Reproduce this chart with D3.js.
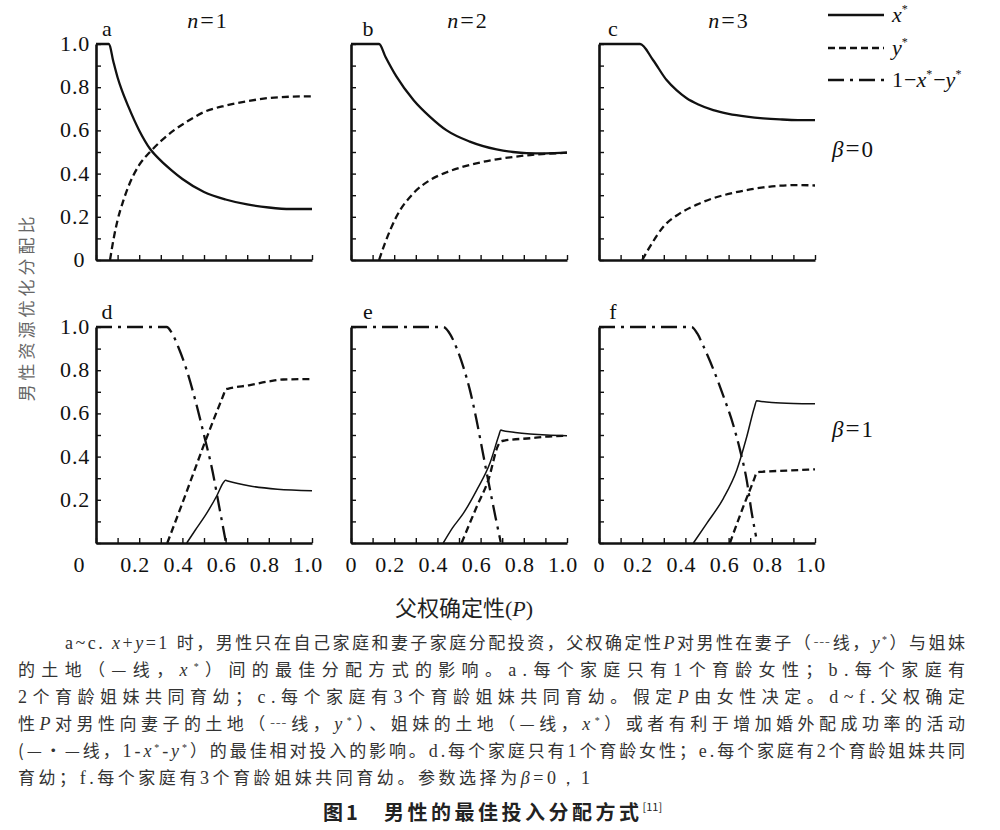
<!DOCTYPE html>
<html>
<head>
<meta charset="utf-8">
<script src="https://cdn.jsdelivr.net/npm/d3@7"></script>
<style>
  body { margin: 0; background: #fff; }
  svg { display: block; }
</style>
</head>
<body>
<svg id="chart" width="1000" height="830"></svg>
<script>
// ---- data: [P, value] ----
// beta = 0, x* (solid) and y* (dashed)
var aX = [[0,1],[0.06,1],[0.08,0.92],[0.1,0.845],[0.12,0.785],[0.15,0.71],[0.2,0.60],[0.25,0.515],[0.3,0.46],[0.35,0.415],[0.4,0.375],[0.5,0.315],[0.6,0.28],[0.7,0.257],[0.8,0.243],[0.9,0.236],[1.0,0.236]]
var aY = [[0.065,0],[0.08,0.09],[0.1,0.185],[0.125,0.27],[0.15,0.34],[0.2,0.44],[0.25,0.5],[0.3,0.55],[0.36,0.60],[0.42,0.64],[0.5,0.685],[0.6,0.715],[0.7,0.735],[0.8,0.75],[0.9,0.756],[1.0,0.758]]
var bX = [[0,1],[0.13,1],[0.16,0.94],[0.21,0.85],[0.29,0.74],[0.366,0.663],[0.443,0.60],[0.55,0.548],[0.674,0.512],[0.75,0.50],[0.813,0.495],[0.9,0.494],[1.0,0.497]]
var bY = [[0.13,0],[0.157,0.077],[0.21,0.2],[0.29,0.31],[0.366,0.37],[0.44,0.405],[0.52,0.432],[0.6,0.452],[0.674,0.466],[0.75,0.477],[0.83,0.486],[0.9,0.491],[1.0,0.497]]
var cX = [[0,1],[0.19,1],[0.25,0.926],[0.313,0.833],[0.36,0.785],[0.406,0.749],[0.46,0.72],[0.529,0.694],[0.6,0.677],[0.684,0.664],[0.76,0.656],[0.838,0.651],[0.92,0.648],[1.0,0.648]]
var cY = [[0.2,0],[0.236,0.062],[0.298,0.154],[0.375,0.216],[0.45,0.255],[0.529,0.286],[0.6,0.306],[0.684,0.324],[0.76,0.336],[0.838,0.344],[0.92,0.347],[1.0,0.345]]
// beta = 1, plus 1-x*-y* (dash-dot)
var dX = [[0.42,0],[0.46,0.06],[0.512,0.137],[0.56,0.22],[0.59,0.28],[0.6,0.29],[0.61,0.287],[0.713,0.264],[0.84,0.249],[1.0,0.242]]
var dY = [[0.33,0],[0.4,0.185],[0.45,0.32],[0.5,0.455],[0.55,0.585],[0.59,0.685],[0.6,0.711],[0.61,0.714],[0.713,0.731],[0.8,0.748],[0.867,0.757],[1.0,0.759]]
var dZ = [[0,1],[0.327,1],[0.35,0.975],[0.38,0.91],[0.42,0.80],[0.46,0.66],[0.5,0.50],[0.54,0.33],[0.57,0.17],[0.6,0.01]]
var eX = [[0.427,0],[0.47,0.07],[0.52,0.137],[0.582,0.245],[0.643,0.369],[0.685,0.50],[0.693,0.523],[0.7,0.521],[0.76,0.512],[0.829,0.505],[0.906,0.5],[1.0,0.497]]
var eY = [[0.512,0],[0.582,0.168],[0.636,0.292],[0.682,0.454],[0.693,0.47],[0.71,0.474],[0.829,0.485],[0.9,0.492],[1.0,0.497]]
var eZ = [[0,1],[0.427,1],[0.46,0.965],[0.49,0.9],[0.52,0.815],[0.55,0.71],[0.58,0.575],[0.61,0.42],[0.64,0.265],[0.67,0.115],[0.693,0.005]]
var fX = [[0.437,0],[0.499,0.091],[0.576,0.207],[0.638,0.338],[0.684,0.492],[0.72,0.63],[0.73,0.659],[0.74,0.657],[0.8,0.65],[0.9,0.646],[1.0,0.645]]
var fY = [[0.606,0],[0.668,0.168],[0.72,0.30],[0.73,0.326],[0.745,0.329],[0.869,0.335],[1.0,0.341]]
var fZ = [[0,1],[0.429,1],[0.455,0.97],[0.483,0.912],[0.529,0.805],[0.576,0.68],[0.622,0.545],[0.653,0.43],[0.684,0.29],[0.707,0.14],[0.727,0.03]]

var yTicks = [0.2, 0.4, 0.6, 0.8, 1.0]
var xTicks = [0.2, 0.4, 0.6, 0.8, 1.0]
var nLabels = ["1", "2", "3"]
var betaLabels = ["0", "1"]

var SERIF = "'Liberation Serif', 'Times New Roman', 'DejaVu Serif', serif"
var CJK = "'Noto Sans CJK SC', sans-serif"

var svg = d3.select("#chart")
var W = 216, H = 216
var colX = [96, 351, 599]
var rowTop = [44, 327]

var styles = {
    x: {w: 2.3, dash: null},
    y: {w: 2.3, dash: "7,4"},
    z: {w: 2.3, dash: "16,6,3,6"}
}

var panels = [
    {letter: "a", col: 0, row: 0, lines: [["x", aX], ["y", aY]]},
    {letter: "b", col: 1, row: 0, lines: [["x", bX], ["y", bY]]},
    {letter: "c", col: 2, row: 0, lines: [["x", cX], ["y", cY]]},
    {letter: "d", col: 0, row: 1, lines: [["z", dZ], ["y", dY], ["x", dX]]},
    {letter: "e", col: 1, row: 1, lines: [["z", eZ], ["y", eY], ["x", eX]]},
    {letter: "f", col: 2, row: 1, lines: [["z", fZ], ["y", fY], ["x", fX]]}
]
var letterDx = [11, 17, 14]

function serifText(sel){
    return sel.append("text").attr("font-family", SERIF).attr("fill", "#111")
}

panels.forEach(function(p){
    var x0 = colX[p.col], top = rowTop[p.row]
    var x = d3.scaleLinear().domain([0, 1]).range([x0, x0 + W])
    var y = d3.scaleLinear().domain([0, 1]).range([top + H, top])
    var g = svg.append("g")

    // axes, ticks pointing inward
    var ya = d3.axisLeft(y).tickValues(d3.range(0, 1.01, 0.1)).tickSizeInner(-5).tickSizeOuter(0).tickFormat("")
    var xa = d3.axisBottom(x).tickValues(d3.range(0, 1.01, 0.1)).tickSizeInner(-5).tickSizeOuter(0).tickFormat("")
    var gy = g.append("g").attr("transform", "translate(" + x0 + ",0)").call(ya)
    var gx = g.append("g").attr("transform", "translate(0," + (top + H) + ")").call(xa)
    ;[gy, gx].forEach(function(a){
        a.select(".domain").attr("stroke", "#111").attr("stroke-width", 2.6)
        a.selectAll(".tick line").attr("stroke", "#111").attr("stroke-width", 1.4)
    })

    // curves
    var line = d3.line().x(function(d){ return x(d[0]) }).y(function(d){ return y(d[1]) }).curve(d3.curveMonotoneX)
    p.lines.forEach(function(l){
        var s = styles[l[0]]
        var w = s.w
        if (p.row == 1 && l[0] == "x") w = 1.5
        g.append("path").attr("d", line(l[1])).attr("fill", "none")
            .attr("stroke", "#111").attr("stroke-width", w)
            .attr("stroke-dasharray", s.dash)
    })

    // panel letter
    serifText(g).attr("x", x0 + letterDx[p.col]).attr("y", top - 8)
        .attr("text-anchor", "middle").attr("font-size", 22).text(p.letter)

    // y tick labels on the first column
    if (p.col == 0) {
        g.selectAll(".yl").data(yTicks).enter().append("text")
            .attr("font-family", SERIF).attr("fill", "#111")
            .attr("x", x0 - 6).attr("y", function(d){ return y(d) + 7 })
            .attr("text-anchor", "end").attr("font-size", 22).attr("letter-spacing", 0.8)
            .text(function(d){ return d3.format(".1f")(d) })
        if (p.row == 0) {
            serifText(g).attr("x", x0 - 17).attr("y", y(0) + 7)
                .attr("text-anchor", "middle").attr("font-size", 22).text("0")
        }
    }
    // x tick labels on the bottom row
    if (p.row == 1) {
        g.selectAll(".xl").data(xTicks).enter().append("text")
            .attr("font-family", SERIF).attr("fill", "#111")
            .attr("x", function(d){ return x(d) - 4 }).attr("y", top + H + 29)
            .attr("text-anchor", "middle").attr("font-size", 22).attr("letter-spacing", 0.8)
            .text(function(d){ return d3.format(".1f")(d) })
        serifText(g).attr("x", p.col == 0 ? x0 - 17 : x0).attr("y", top + H + 29)
            .attr("text-anchor", "middle").attr("font-size", 22).text("0")
    }
})

// n = 1,2,3 titles
var titleX = [207, 467, 728]
nLabels.forEach(function(n, i){
    var t = serifText(svg).attr("x", titleX[i]).attr("y", 28)
        .attr("text-anchor", "middle").attr("font-size", 22)
    t.append("tspan").attr("font-style", "italic").text("n")
    t.append("tspan").attr("dx", 2).attr("font-size", 24).text("=")
    t.append("tspan").attr("dx", 2).text(n)
})

// beta labels
var betaY = [157, 437]
betaLabels.forEach(function(b, i){
    var t = serifText(svg).attr("x", 832).attr("y", betaY[i]).attr("font-size", 23)
    t.append("tspan").attr("font-style", "italic").text("β")
    t.append("tspan").attr("dx", 2).attr("font-size", 25).text("=")
    t.append("tspan").attr("dx", 2).text(b)
})

// legend
var legendRows = [["x", 15], ["y", 48], ["z", 80]]
legendRows.forEach(function(r){
    var s = styles[r[0]]
    svg.append("line").attr("x1", 828).attr("x2", 884).attr("y1", r[1]).attr("y2", r[1])
        .attr("stroke", "#111").attr("stroke-width", 2.3).attr("stroke-dasharray", s.dash)
    var t = serifText(svg).attr("x", 892).attr("y", r[1] + 7).attr("font-size", 22)
    function star(v){
        t.append("tspan").attr("font-style", "italic").text(v)
        t.append("tspan").attr("font-size", 12).attr("baseline-shift", "9").text("*")
    }
    if (r[0] == "x") star("x")
    else if (r[0] == "y") star("y")
    else {
        t.append("tspan").text("1")
        t.append("tspan").attr("dx", 1).text("−")
        star("x")
        t.append("tspan").attr("dx", 1).text("−")
        star("y")
    }
})

// axis titles
svg.append("text").attr("transform", "translate(33,307) rotate(-90)")
    .attr("text-anchor", "middle").attr("font-family", CJK).attr("font-size", 17)
    .attr("fill", "#666").attr("letter-spacing", 4).text("男性资源优化分配比")
var xt = svg.append("text").attr("x", 395).attr("y", 616).attr("font-size", 22).attr("fill", "#222")
xt.append("tspan").attr("font-family", CJK).text("父权确定性")
xt.append("tspan").attr("font-family", SERIF).text("(")
xt.append("tspan").attr("font-family", SERIF).attr("font-style", "italic").text("P")
xt.append("tspan").attr("font-family", SERIF).text(")")

// caption
var captionLines = [
    [["a~c. ", "l"], ["x", "i"], ["+", "l"], ["y", "i"], ["=1 ", "l"], ["时，男性只在自己家庭和妻子家庭分配投资，父权确定性", "c"], ["P", "i"], ["对男性在妻子（┄线，", "c"], ["y", "i"], ["*", "s"], ["）与姐妹", "c"]],
    [["的土地（—线，", "c"], ["x", "i"], ["*", "s"], ["）间的最佳分配方式的影响。", "c"], ["a.", "l"], ["每个家庭只有", "c"], ["1", "l"], ["个育龄女性；", "c"], ["b.", "l"], ["每个家庭有", "c"]],
    [["2", "l"], ["个育龄姐妹共同育幼；", "c"], ["c.", "l"], ["每个家庭有", "c"], ["3", "l"], ["个育龄姐妹共同育幼。假定", "c"], ["P", "i"], ["由女性决定。", "c"], ["d~f.", "l"], ["父权确定", "c"]],
    [["性", "c"], ["P", "i"], ["对男性向妻子的土地（┄线，", "c"], ["y", "i"], ["*", "s"], ["）、姐妹的土地（—线，", "c"], ["x", "i"], ["*", "s"], ["）或者有利于增加婚外配成功率的活动", "c"]],
    [["(—·—线，", "c"], ["1-", "l"], ["x", "i"], ["*", "s"], ["-", "l"], ["y", "i"], ["*", "s"], ["）的最佳相对投入的影响。", "c"], ["d.", "l"], ["每个家庭只有", "c"], ["1", "l"], ["个育龄女性；", "c"], ["e.", "l"], ["每个家庭有", "c"], ["2", "l"], ["个育龄姐妹共同", "c"]],
    [["育幼；", "c"], ["f.", "l"], ["每个家庭有", "c"], ["3", "l"], ["个育龄姐妹共同育幼。参数选择为", "c"], ["β", "i"], ["=0，1", "l"]]
]
var capX = [65, 18, 18, 18, 18, 18]
var capLen = [900, 947, 947, 947, 947, 572]
captionLines.forEach(function(parts, i){
    var t = svg.append("text").attr("x", capX[i]).attr("y", 649 + i * 27)
        .attr("font-size", 17).attr("fill", "#333")
        .attr("textLength", capLen[i]).attr("lengthAdjust", "spacing")
    parts.forEach(function(p){
        var s = t.append("tspan").text(p[0])
        s.attr("font-family", p[1] == "c" ? CJK : SERIF)
        if (p[1] == "l" || p[1] == "i") s.attr("font-size", 18)
        if (p[1] == "i") s.attr("font-style", "italic")
        if (p[1] == "s") s.attr("font-size", 10).attr("baseline-shift", "6")
    })
})

// figure title
var ft = svg.append("text").attr("x", 323).attr("y", 820).attr("font-family", CJK)
    .attr("font-weight", "bold").attr("font-size", 20).attr("fill", "#222")
ft.append("tspan").text("图")
ft.append("tspan").attr("dx", 3).text("1")
ft.append("tspan").attr("x", 384).attr("letter-spacing", 3.5).text("男性的最佳投入分配方式")
ft.append("tspan").attr("font-size", 11).attr("font-weight", "normal").attr("baseline-shift", "9").text("[11]")
</script>
</body>
</html>
